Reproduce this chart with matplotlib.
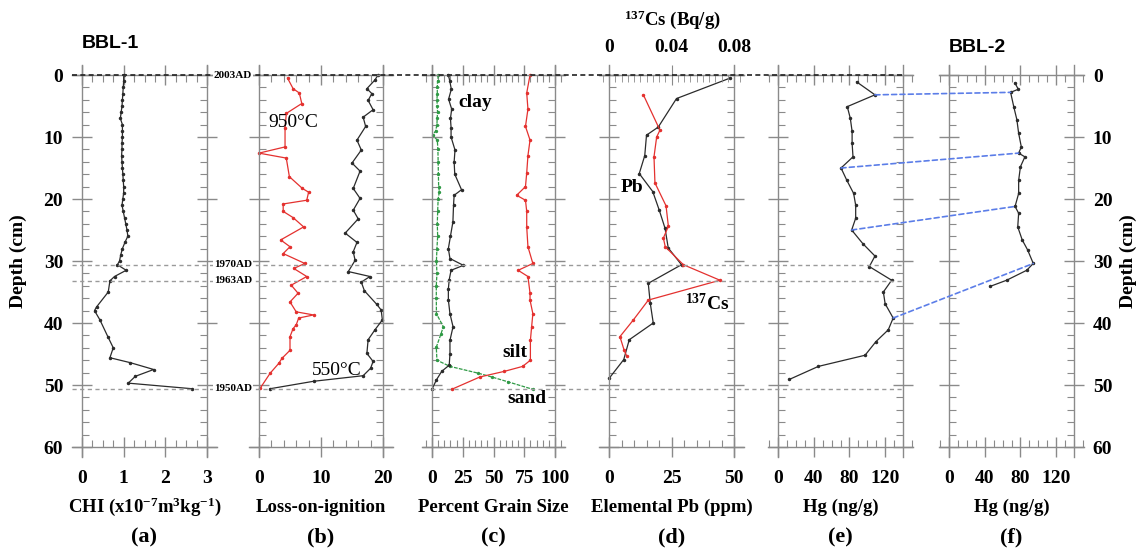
import matplotlib.pyplot as plt
from matplotlib.patches import ConnectionPatch
from matplotlib.ticker import MultipleLocator

plt.rcParams['font.family'] = 'Liberation Serif'
plt.rcParams['font.weight'] = 'bold'
plt.rcParams['mathtext.fontset'] = 'custom'
plt.rcParams['mathtext.rm'] = 'Liberation Serif:bold'
plt.rcParams['mathtext.it'] = 'Liberation Serif:bold'
plt.rcParams['mathtext.bf'] = 'Liberation Serif:bold'

# ---- data (depth in cm) ----
# (a) magnetic susceptibility
chi_depth = [0, 1, 2, 3, 4, 5, 6, 7, 8, 9, 10, 11, 12, 13, 14, 15, 16, 17, 18, 19, 20,
             21, 22, 23, 24, 25, 26, 27, 28, 29, 30, 30.6, 31.5, 32.5, 33.2, 35, 37.4,
             38, 39.5, 42.2, 44, 45.6, 46.4, 47.5, 48.6, 49.7, 50.6]
chi = [1.0, 1.0, 0.99, 0.98, 0.97, 0.96, 0.94, 0.92, 0.97, 0.97, 0.97, 0.96, 0.96, 0.95,
       0.96, 0.97, 0.98, 0.99, 1.0, 1.0, 0.98, 0.96, 0.99, 1.02, 1.05, 1.08, 1.1, 1.03,
       0.97, 0.93, 0.9, 0.85, 1.06, 0.78, 0.67, 0.63, 0.35, 0.3, 0.43, 0.62, 0.75, 0.67,
       1.16, 1.72, 1.28, 1.11, 2.64]

# (b) loss-on-ignition
loi950_depth = [0.5, 2.2, 2.9, 4.6, 6.2, 8.6, 11.6, 12.6, 13.4, 16.4, 18.3, 18.9, 20.2,
                20.8, 22, 23, 24.5, 26.6, 27.7, 28.8, 30.4, 31.2, 32.5, 33.9, 35.2, 36.6,
                38.2, 38.7, 39.2, 40.3, 40.9, 42.2, 44.4, 45.7, 46.5, 48.1, 50.5]
loi950 = [4.6, 5.5, 6.5, 6.9, 4.4, 4.2, 4.2, 0.0, 4.4, 4.9, 7.0, 8.0, 7.7, 3.9, 3.9, 5.5,
          7.2, 3.5, 5.0, 3.9, 7.4, 5.6, 7.7, 5.2, 6.3, 5.0, 6.0, 8.8, 6.4, 6.0, 5.5, 5.0,
          5.0, 3.7, 3.2, 1.8, 0.2]
loi550_depth = [0, 0.8, 2.2, 3, 4.1, 5.6, 6.8, 8.3, 10.5, 12.1, 14.2, 15.5, 18.3, 19.9,
                21.8, 23.2, 25.5, 27, 28.5, 29.9, 31.7, 32.5, 33.4, 34.8, 37, 37.9, 39.5,
                41.1, 42.7, 44.9, 46.2, 47.3, 48.5, 49.4, 50.6]
loi550 = [19.2, 18.7, 17.4, 18.2, 17.6, 18.4, 16.8, 17.2, 15.8, 16.5, 15.0, 16.3, 15.2,
          16.3, 15.2, 16.0, 13.9, 15.8, 15.2, 15.5, 14.4, 17.9, 16.5, 17.0, 19.0, 19.7,
          19.9, 18.7, 17.6, 17.4, 18.4, 18.0, 16.8, 8.8, 1.8]

# (c) grain size
sand_depth = [0, 1, 2, 3, 4, 5, 6, 7, 8, 9, 9.7, 10.5, 12, 14, 16, 18, 18.8, 20, 22, 24,
              26, 28, 30, 32, 34, 36, 38.5, 40.6, 41.7, 43.9, 46, 47, 48.1, 48.7, 49.5, 50.7]
sand = [5.1, 4.5, 4.3, 4.3, 4.0, 4.3, 4.5, 4.2, 4.0, 3.0, 0.5, 4.3, 4.8, 5.0, 5.2, 5.4,
        6.0, 5.0, 4.6, 4.3, 4.6, 4.0, 3.6, 4.0, 3.5, 3.5, 3.6, 9.2, 7.4, 3.5, 4.0, 14.6,
        37.7, 48.5, 62.0, 82.0]
clay_depth = [0, 1, 2.3, 3.9, 5.5, 7, 8.5, 10, 12.1, 14, 16, 18.5, 19.4, 21, 23.7, 26, 28,
              29.6, 30.7, 31.5, 33, 34.5, 36.3, 38.5, 40.6, 42.8, 45, 46.8, 47.8, 49.2, 50.7]
clay = [13.3, 14.5, 15.7, 13.5, 16.0, 15.0, 15.5, 15.5, 18.7, 18.0, 18.5, 24.0, 18.0, 17.5,
        17.0, 15.0, 13.3, 14.6, 25.5, 15.5, 14.0, 13.3, 13.3, 14.6, 17.1, 14.6, 14.6, 14.0,
        7.9, 3.5, 0.0]
silt_depth = [0, 2.9, 5.5, 8.3, 10.5, 13, 15.8, 18, 19.4, 20.2, 22, 24.5, 27.7, 30.4,
              31.5, 32.5, 35.2, 36.3, 38.5, 40.6, 42.8, 46, 47, 47.8, 48.7, 50.7]
silt = [79.7, 77, 78, 76, 79.7, 78, 77, 76, 68.8, 76, 77, 77, 78, 82, 70, 78, 79.7, 79.7,
        82, 81, 80, 80, 73.7, 58.8, 39, 16]

# (d) Pb and 137Cs
pb_depth = [0.5, 3.8, 8.4, 9.7, 13, 15.9, 18.8, 21.8, 24.7, 27.9, 30.6, 33.6, 36.8, 40,
            42.7, 45.9, 48.9]
pb = [48.4, 27, 19.7, 15, 14.3, 12.1, 17.5, 20.1, 22.4, 23.7, 29, 15.7, 16.5, 17.7, 8.1,
      5.9, 0.1]
cs_depth = [3.2, 8.9, 10, 13.2, 17.4, 21.1, 24.4, 26.3, 27.7, 30.6, 33.1, 36.3, 39.5,
            42.2, 44.4, 45.3]
cs = [0.022, 0.0326, 0.0305, 0.0288, 0.0294, 0.0365, 0.038, 0.0348, 0.036, 0.0476, 0.071,
      0.0252, 0.0156, 0.007, 0.0097, 0.0113]

# (e) Hg BBL-1, (f) Hg BBL-2
hg1_depth = [1.1, 3.2, 5.1, 7, 9.1, 11, 13.2, 15, 16.9, 19.1, 21, 23.1, 25, 27.2, 29.2,
             30.9, 33.1, 35, 36.9, 39.2, 41.1, 43, 45.2, 47, 49.1]
hg1 = [88, 108.6, 77.6, 81, 83, 83, 84, 70.6, 76.8, 84.7, 87, 87, 82.5, 95, 108.6, 102.3,
       127.3, 118, 120, 129, 123.5, 109.7, 97.5, 45.2, 12.7]
hg2_depth = [1.3, 2.3, 2.8, 5.1, 7.2, 9.4, 11.6, 12.6, 13.2, 14.8, 17, 19.1, 21.2, 22.3,
             24.5, 26.6, 28.2, 30.4, 31.5, 33.1, 34.1]
hg2 = [73.9, 77.6, 69, 72.5, 76, 78, 81, 78, 85, 80, 78, 78, 74, 78, 77, 82, 88, 94.4, 87,
       64.6, 46]
# correlation ties: index in hg1 -> index in hg2
tie_e = [1, 7, 12, 19]
tie_f = [2, 7, 12, 17]

# dated horizons
date_depth = [0, 30.6, 33.2, 50.6]
date_label = ['2003AD', '1970AD', '1963AD', '1950AD']

# ---- layout ----
W, H = 1145, 551
fig = plt.figure(figsize=(W / 100, H / 100), dpi=100)
GRAY = '#8a8a8a'
TOP, BOT = 75, 447
PPC = (BOT - TOP) / 60.0
YPAD = 1.6


def box(x0, x1):
    top = TOP - YPAD * PPC
    bot = BOT + YPAD * PPC
    return [x0 / W, 1 - bot / H, (x1 - x0) / W, (bot - top) / H]


def panel(x0, x1, lo, hi, major, minor, left=False, right=False):
    ax = fig.add_axes(box(x0 - 10, x1 + 10))
    pad = 10 * (hi - lo) / (x1 - x0)
    ax.set_ylim(60 + YPAD, -YPAD)
    ax.patch.set_visible(False)
    for s in ax.spines.values():
        s.set_color(GRAY)
        s.set_linewidth(1)
    ax.spines['left'].set_position(('data', lo))
    ax.spines['right'].set_position(('data', hi))
    ax.spines['top'].set_position(('data', 0))
    ax.spines['bottom'].set_position(('data', 60))
    ax.xaxis.set_major_locator(MultipleLocator(major))
    ax.xaxis.set_minor_locator(MultipleLocator(minor))
    ax.yaxis.set_major_locator(MultipleLocator(10))
    ax.yaxis.set_minor_locator(MultipleLocator(2))
    ax.tick_params(which='major', direction='inout', length=15, width=1, color=GRAY,
                   top=True, bottom=True, left=True, right=True, labelsize=14,
                   labelleft=left, labelright=right, pad=6)
    ax.tick_params(which='minor', direction='in', length=5, width=0.8, color=GRAY,
                   top=True, bottom=True, left=True, right=True)
    ax.tick_params(axis='x', which='major', pad=9)
    ax.set_xlim(lo - pad, hi + pad)
    return ax


ax_a = panel(82, 207, 0, 3, 1, 0.25, left=True)
ax_b = panel(259, 383, 0, 20, 10, 2)
ax_c = panel(432, 555, 0, 100, 25, 5)
ax_d = panel(609, 734, 0, 50, 25, 5)
ax_e = panel(778, 903, 0, 140, 40, 10)
ax_f = panel(949, 1074, 0, 140, 40, 10, right=True)
for ax in (ax_e, ax_f):
    ax.set_xticks([0, 40, 80, 120])
    ax.set_xlim(-11.2, 151.2)

BLACK = '#2b2b2b'
RED = '#e4312f'
GREEN = '#2f9a45'
kw = dict(lw=0.9, marker='o', ms=1.5)

ax_a.plot(chi, chi_depth, color=BLACK, **kw)
ax_b.plot(loi950, loi950_depth, color=RED, **kw)
ax_b.plot(loi550, loi550_depth, color=BLACK, **kw)
ax_c.plot(sand, sand_depth, color=GREEN, ls=(0, (3, 1)), lw=0.9, marker='o', ms=1.4)
ax_c.plot(clay, clay_depth, color=BLACK, **kw)
ax_c.plot(silt, silt_depth, color=RED, **kw)
ax_d.plot(pb, pb_depth, color=BLACK, **kw)
ax_e.plot(hg1, hg1_depth, color=BLACK, **kw)
ax_f.plot(hg2, hg2_depth, color=BLACK, **kw)

# 137Cs on its own top axis
ax_cs = ax_d.twiny()
ax_cs.patch.set_visible(False)
pad_cs = 10 * 0.08 / (734 - 609)
for k in ['left', 'right', 'bottom']:
    ax_cs.spines[k].set_visible(False)
ax_cs.spines['top'].set_color(GRAY)
ax_cs.spines['top'].set_position(('data', 0))
ax_cs.set_xticks([0, 0.04, 0.08], ['0', '0.04', '0.08'])
ax_cs.xaxis.set_minor_locator(MultipleLocator(0.004))
ax_cs.tick_params(which='major', direction='inout', length=15, color=GRAY, top=True,
                  labeltop=True, labelsize=14, pad=6)
ax_cs.tick_params(which='minor', direction='in', length=5, color=GRAY, top=True)
ax_cs.set_xlim(-pad_cs, 0.08 + pad_cs)
ax_d.tick_params(which='both', top=False)
ax_cs.plot(cs, cs_depth, color=RED, **kw)

# horizon lines across panels a-e
ax_dt = fig.add_axes(box(72, 903), zorder=5)
ax_dt.set_xlim(0, 1)
ax_dt.set_ylim(60 + YPAD, -YPAD)
ax_dt.axis('off')
for dd, lab in zip(date_depth, date_label):
    if dd == 0:
        ax_dt.axhline(dd, color='#222222', lw=1.2, ls=(0, (3, 2)))
    else:
        ax_dt.axhline(dd, color='#9a9a9a', lw=1.0, ls=(0, (3, 2.5)))
    ax_dt.text((233 - 72) / (903 - 72), dd, lab, ha='center', va='center', fontsize=8,
               bbox=dict(facecolor='white', edgecolor='none', pad=0.6))

# tie lines between the two Hg cores
for i, j in zip(tie_e, tie_f):
    con = ConnectionPatch(xyA=(hg1[i], hg1_depth[i]), coordsA=ax_e.transData,
                          xyB=(hg2[j], hg2_depth[j]), coordsB=ax_f.transData,
                          color='#5b7de8', lw=1.2, ls=(0, (3, 2)))
    fig.add_artist(con)

# annotations
ax_b.text(5.5, 7.6, '950°C', fontsize=14, fontweight='normal', ha='center', va='center')
ax_b.text(12.6, 47.6, '550°C', fontsize=14, fontweight='normal', ha='center', va='center')
ax_c.text(35, 4.4, 'clay', fontsize=14, ha='center', va='center')
ax_c.text(67.5, 44.7, 'silt', fontsize=14, ha='center', va='center')
ax_c.text(77, 52.1, 'sand', fontsize=14, ha='center', va='center')
ax_d.text(9.2, 18.2, 'Pb', fontsize=14, ha='center', va='center')
ax_d.text(39.2, 36.8, '$^{137}$Cs', fontsize=14, ha='center', va='center')


def ftext(x, y, s, **k):
    fig.text(x / W, 1 - y / H, s, ha='center', va='center', **k)


xlabels = ['CHI (x10$^{-7}$m$^{3}$kg$^{-1}$)', 'Loss-on-ignition', 'Percent Grain Size',
           'Elemental Pb (ppm)', 'Hg (ng/g)', 'Hg (ng/g)']
letters = ['(a)', '(b)', '(c)', '(d)', '(e)', '(f)']
centers = [144.5, 321, 493.5, 671.5, 840.5, 1011.5]
for cx, xl, lt in zip(centers, xlabels, letters):
    ftext(cx, 507, xl, fontsize=13.5)
    ftext(cx, 537, lt, fontsize=16)

ftext(672, 20, '$^{137}$Cs (Bq/g)', fontsize=13.5)
ftext(18, 261, 'Depth (cm)', fontsize=14, rotation=90)
ftext(1128, 261, 'Depth (cm)', fontsize=14, rotation=90)
fig.text(82 / W, 1 - 43 / H, 'BBL-1', fontsize=14, family='Liberation Sans',
         ha='left', va='center')
fig.text(949 / W, 1 - 47 / H, 'BBL-2', fontsize=14, family='Liberation Sans',
         ha='left', va='center')

fig.savefig('out.png', dpi=100)
